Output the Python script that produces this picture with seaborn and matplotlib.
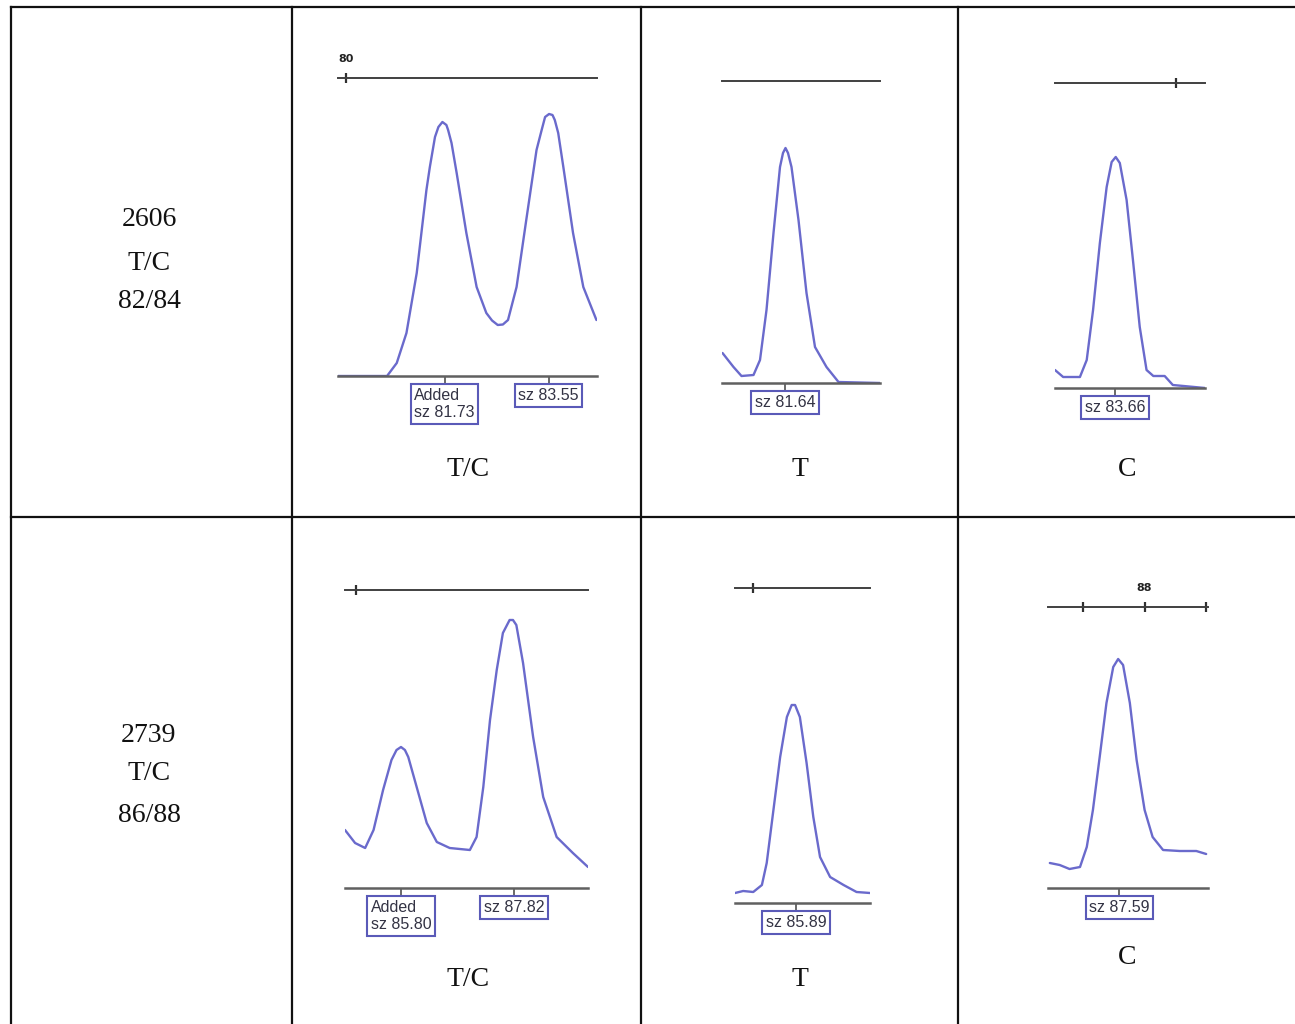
import matplotlib
matplotlib.use("Agg")
import matplotlib.pyplot as plt
import seaborn as sns
import pandas as pd
from matplotlib.lines import Line2D

# ---------------- data ----------------
row_ids = ["2606", "2739"]
row_genotypes = ["T/C", "T/C"]
row_sizes = ["82/84", "86/88"]
col_labels = ["T/C", "T", "C"]

# Row 2606, T/C trace (size in bp, relative fluorescence)
tc2606_size = [79.86, 80.72, 80.89, 81.06, 81.24, 81.41, 81.47, 81.56, 81.62, 81.69, 81.76, 81.79,
               81.85, 81.94, 82.11, 82.29, 82.46, 82.56, 82.66, 82.75, 82.84, 82.99, 83.16, 83.34,
               83.43, 83.49, 83.56, 83.62, 83.66, 83.72, 83.81, 83.98, 84.16, 84.39]
tc2606_rfu = [0, 0, 130, 430, 1030, 1860, 2090, 2390, 2490, 2540, 2510, 2460,
              2330, 2030, 1430, 890, 630, 555, 510, 515, 560, 890, 1560, 2260,
              2460, 2590, 2620, 2610, 2560, 2430, 2090, 1430, 890, 560]
tc2606_calls = [81.73, 83.55]
tc2606_call_labels = ["Added\nsz 81.73", "sz 83.55"]
tc2606_ruler = [80]
tc2606_ruler_labels = ["80"]

# Row 2606, T trace
t2606_size = [80.39, 80.61, 80.77, 81.01, 81.14, 81.27, 81.41, 81.54, 81.60, 81.65, 81.70, 81.77,
              81.91, 82.07, 82.24, 82.47, 82.71, 83.54]
t2606_rfu = [300, 160, 70, 80, 230, 730, 1500, 2160, 2300, 2350, 2300, 2160,
             1630, 900, 360, 160, 10, 0]
t2606_calls = [81.64]
t2606_call_labels = ["sz 81.64"]
t2606_ruler = []
t2606_ruler_labels = []

# Row 2606, C trace
c2606_size = [82.34, 82.52, 82.89, 83.04, 83.18, 83.33, 83.48, 83.59, 83.68, 83.77, 83.92, 84.06,
              84.21, 84.36, 84.51, 84.76, 84.94, 85.65]
c2606_rfu = [180, 110, 110, 280, 780, 1450, 2010, 2260, 2310, 2250, 1880, 1280,
             610, 180, 120, 120, 30, 0]
c2606_calls = [83.66]
c2606_call_labels = ["sz 83.66"]
c2606_ruler = [85]
c2606_ruler_labels = [""]

# Row 2739, T/C trace
tc2739_size = [84.80, 84.98, 85.16, 85.31, 85.48, 85.63, 85.72, 85.80, 85.87, 85.93, 86.08, 86.26,
               86.44, 86.67, 87.03, 87.15, 87.27, 87.39, 87.51, 87.62, 87.74, 87.80, 87.86, 87.98,
               88.16, 88.34, 88.58, 88.87, 89.14]
tc2739_rfu = [580, 450, 400, 580, 980, 1280, 1380, 1410, 1380, 1310, 1010, 650,
              460, 400, 380, 510, 1010, 1680, 2180, 2550, 2680, 2680, 2630, 2250,
              1510, 910, 510, 350, 210]
tc2739_calls = [85.80, 87.82]
tc2739_call_labels = ["Added\nsz 85.80", "sz 87.82"]
tc2739_ruler = [85]
tc2739_ruler_labels = [""]

# Row 2739, T trace
t2739_size = [84.62, 84.79, 85.00, 85.18, 85.28, 85.42, 85.56, 85.70, 85.80, 85.87, 85.97, 86.11,
              86.25, 86.39, 86.60, 86.88, 87.15, 87.43]
t2739_rfu = [100, 120, 110, 180, 400, 930, 1460, 1860, 1980, 1980, 1860, 1400,
             860, 460, 260, 180, 110, 100]
t2739_calls = [85.89]
t2739_call_labels = ["sz 85.89"]
t2739_ruler = [85]
t2739_ruler_labels = [""]

# Row 2739, C trace
c2739_size = [86.46, 86.62, 86.78, 86.95, 87.06, 87.16, 87.27, 87.38, 87.49, 87.57, 87.65, 87.76,
              87.87, 88.00, 88.13, 88.30, 88.57, 88.84, 89.00]
c2739_rfu = [250, 230, 190, 210, 410, 780, 1310, 1850, 2210, 2290, 2230, 1850,
             1280, 780, 510, 380, 370, 370, 340]
c2739_calls = [87.59]
c2739_call_labels = ["sz 87.59"]
c2739_ruler = [87, 88, 89]
c2739_ruler_labels = ["", "88", ""]

# ---------------- layout ----------------
W, H = 1295, 1024
sns.set_theme(style="white")
plt.rcParams["font.family"] = ["Liberation Serif", "DejaVu Serif"]

fig = plt.figure(figsize=(W / 100, H / 100), dpi=100)
fig.patch.set_facecolor("white")


def fx(x):
    return x / W


def fy(y):
    return 1 - y / H


def fig_line(x0, y0, x1, y1, lw=1.6, color="#111111"):
    fig.add_artist(Line2D([fx(x0), fx(x1)], [fy(y0), fy(y1)], transform=fig.transFigure,
                          color=color, lw=lw, solid_capstyle="projecting"))


# table grid
fig_line(11, 7, 1295, 7)
fig_line(11, 7, 11, 1024)
for vx in [292, 641, 958]:
    fig_line(vx, 7, vx, 1024)
fig_line(11, 517, 1295, 517)

trace_color = "#6a6acc"
box_color = "#5a5ab8"

panels = [
    # size, rfu, calls, call labels, ruler, ruler labels, (x0, x1, y_ruler, y_base), xlim
    (tc2606_size, tc2606_rfu, tc2606_calls, tc2606_call_labels, tc2606_ruler, tc2606_ruler_labels,
     (338, 597, 78, 376), (79.86, 84.40)),
    (t2606_size, t2606_rfu, t2606_calls, t2606_call_labels, t2606_ruler, t2606_ruler_labels,
     (722, 880, 81, 383), (80.38, 83.54)),
    (c2606_size, c2606_rfu, c2606_calls, c2606_call_labels, c2606_ruler, c2606_ruler_labels,
     (1055, 1205, 83, 388), (82.34, 85.65)),
    (tc2739_size, tc2739_rfu, tc2739_calls, tc2739_call_labels, tc2739_ruler, tc2739_ruler_labels,
     (345, 588, 590, 888), (84.80, 89.14)),
    (t2739_size, t2739_rfu, t2739_calls, t2739_call_labels, t2739_ruler, t2739_ruler_labels,
     (735, 870, 588, 903), (84.62, 87.43)),
    (c2739_size, c2739_rfu, c2739_calls, c2739_call_labels, c2739_ruler, c2739_ruler_labels,
     (1048, 1208, 607, 888), (86.43, 89.03)),
]

for size, rfu, calls, call_labels, ruler, ruler_labels, (x0, x1, yr, yb), xlim in panels:
    ax = fig.add_axes([fx(x0), fy(yb), (x1 - x0) / W, (yb - yr) / H])
    ax.set_facecolor("none")
    top = (yb - yr) * 10
    df = pd.DataFrame({"size": size, "rfu": rfu})
    sns.lineplot(data=df, x="size", y="rfu", ax=ax, color=trace_color, lw=1.7,
                 sort=False, estimator=None, solid_joinstyle="round", solid_capstyle="round")
    ax.set_xlim(*xlim)
    ax.set_ylim(0, top)
    ax.set_xlabel("")
    ax.set_ylabel("")
    ax.set_yticks([])
    # baseline (bottom spine) and ruler (top spine)
    for side in ["left", "right"]:
        ax.spines[side].set_visible(False)
    ax.spines["bottom"].set_color("#606060")
    ax.spines["bottom"].set_linewidth(1.8)
    ax.spines["top"].set_color("#404040")
    ax.spines["top"].set_linewidth(1.4)
    ax.set_xticks(calls)
    ax.set_xticklabels([])
    ax.tick_params(axis="x", bottom=True, top=False, direction="out", length=5,
                   width=1.2, color="#505050")
    # ruler ticks
    for r, rl in zip(ruler, ruler_labels):
        ax.plot([r], [top], marker="|", markersize=7, mew=1.6, color="#303030", clip_on=False)
        if rl:
            ax.annotate(rl, xy=(r, top), xytext=(0, 14), textcoords="offset pixels",
                        ha="center", va="bottom", fontsize=8, fontweight="bold",
                        family="DejaVu Sans", color="#222222", annotation_clip=False)
    # size call boxes
    for c, cl in zip(calls, call_labels):
        ax.annotate(cl, xy=(c, 0), xytext=(0, -12), textcoords="offset pixels",
                    ha="center", va="top", fontsize=11.5, family="Liberation Sans",
                    color="#333344", multialignment="left", annotation_clip=False,
                    bbox=dict(boxstyle="square,pad=0.22", fc="white", ec=box_color, lw=1.5))

# column labels under panels
col_x = [468, 800, 1127]
label_y_rows = [[469, 469, 469], [980, 980, 958]]
for r in range(2):
    for cx, cy, lab in zip(col_x, label_y_rows[r], col_labels):
        fig.text(fx(cx), fy(cy), lab, ha="center", va="center", fontsize=20, color="#111111")

# row labels
row_y = [(220, 263, 302), (735, 773, 815)]
for (ya, yb2, yc), rid, gt, sz in zip(row_y, row_ids, row_genotypes, row_sizes):
    fig.text(fx(149), fy(ya), rid, ha="center", va="center", fontsize=20, color="#111111")
    fig.text(fx(149), fy(yb2), gt, ha="center", va="center", fontsize=20, color="#111111")
    fig.text(fx(149), fy(yc), sz, ha="center", va="center", fontsize=20, color="#111111")

fig.savefig("out.png", dpi=100, facecolor="white")
